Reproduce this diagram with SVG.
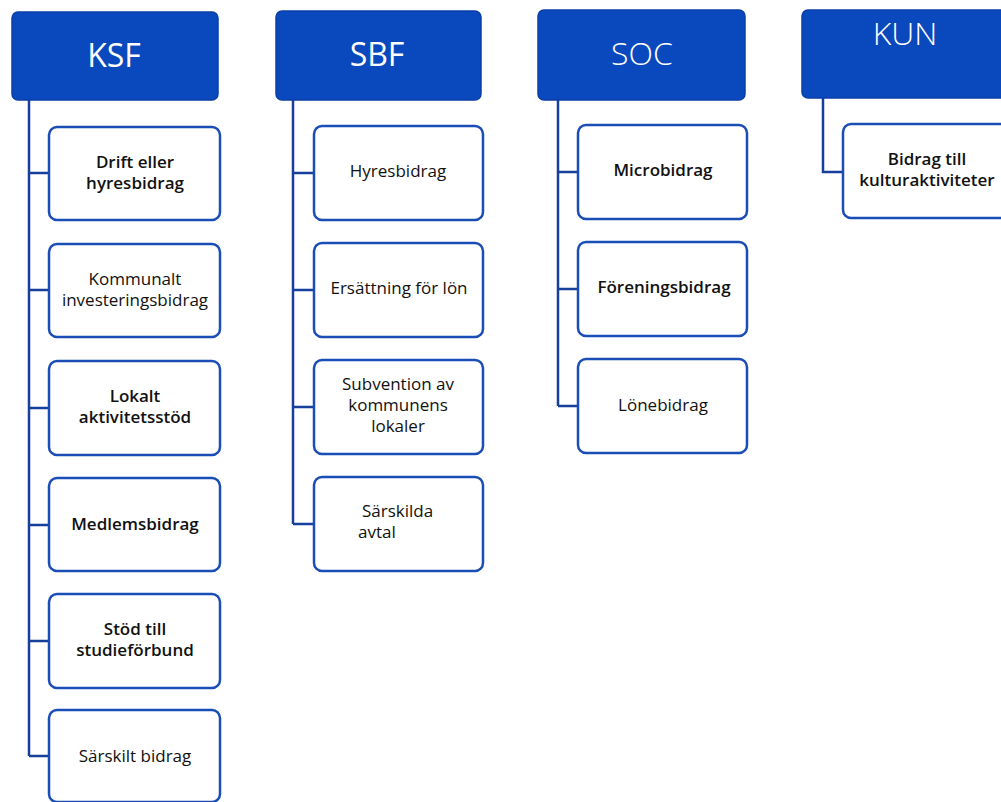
<svg xmlns="http://www.w3.org/2000/svg" width="1001" height="802" viewBox="0 0 1001 802">
<style>
.hdr{fill:#0a48bd;stroke:#0b3fa6;stroke-width:1.5}
.hdrt{font-family:"Open Sans","Liberation Sans",sans-serif;font-size:32px;fill:#ffffff;text-anchor:middle}
.light{font-weight:300}
.box{fill:#ffffff;stroke:#1a4db5;stroke-width:2.5}
.t{font-family:"Open Sans","Liberation Sans",sans-serif;font-size:17px;fill:#111111;text-anchor:middle}
.b{font-weight:600}
.s{text-anchor:start}
.con{fill:none;stroke:#163f9c;stroke-width:2.5}
</style>
<rect width="1001" height="802" fill="#ffffff"/>
<g id="connectors">
<path class="con" d="M29 100V756M29 173H49M29 290H49M29 408H49M29 525H49M29 641H49M29 756H49"/>
<path class="con" d="M293 100V524M293 173H314M293 290H314M293 407H314M293 524H314"/>
<path class="con" d="M558 100V406M558 172H578M558 289H578M558 406H578"/>
<path class="con" d="M823 98V172H843"/>
</g>
<g id="ksf"><rect class="hdr" x="12" y="12" width="206" height="88" rx="6"/><text class="hdrt" x="114" y="67">KSF</text></g>
<g id="sbf"><rect class="hdr" x="276" y="11" width="205" height="89" rx="6"/><text class="hdrt" x="377" y="66">SBF</text></g>
<g id="soc"><rect class="hdr" x="538" y="10" width="207" height="90" rx="6"/><text class="hdrt light" x="642" y="65">SOC</text></g>
<g id="kun"><rect class="hdr" x="802" y="10" width="210" height="88" rx="6"/><text class="hdrt light" x="905" y="45">KUN</text></g>

<g id="ksf1"><rect class="box" x="49" y="127" width="171" height="93" rx="8"/><text class="t b" x="135" y="168">Drift eller</text><text class="t b" x="135" y="189">hyresbidrag</text></g>
<g id="ksf2"><rect class="box" x="49" y="244" width="171" height="93" rx="8"/><text class="t" x="135" y="285">Kommunalt</text><text class="t" x="135" y="306">investeringsbidrag</text></g>
<g id="ksf3"><rect class="box" x="49" y="361" width="171" height="94" rx="8"/><text class="t b" x="135" y="402">Lokalt</text><text class="t b" x="135" y="423">aktivitetsstöd</text></g>
<g id="ksf4"><rect class="box" x="49" y="478" width="171" height="93" rx="8"/><text class="t b" x="135" y="530">Medlemsbidrag</text></g>
<g id="ksf5"><rect class="box" x="49" y="594" width="171" height="94" rx="8"/><text class="t b" x="135" y="635">Stöd till</text><text class="t b" x="135" y="656">studieförbund</text></g>
<g id="ksf6"><rect class="box" x="49" y="710" width="171" height="92" rx="8"/><text class="t" x="135" y="762">Särskilt bidrag</text></g>

<g id="sbf1"><rect class="box" x="314" y="126" width="169" height="94" rx="8"/><text class="t" x="398" y="177">Hyresbidrag</text></g>
<g id="sbf2"><rect class="box" x="314" y="243" width="169" height="94" rx="8"/><text class="t" x="399" y="294">Ersättning för lön</text></g>
<g id="sbf3"><rect class="box" x="314" y="360" width="169" height="94" rx="8"/><text class="t" x="398" y="390">Subvention av</text><text class="t" x="398" y="411">kommunens</text><text class="t" x="398" y="432">lokaler</text></g>
<g id="sbf4"><rect class="box" x="314" y="477" width="169" height="94" rx="8"/><text class="t s" x="362" y="517">Särskilda</text><text class="t s" x="358" y="538">avtal</text></g>

<g id="soc1"><rect class="box" x="578" y="125" width="169" height="94" rx="8"/><text class="t b" x="663" y="176">Microbidrag</text></g>
<g id="soc2"><rect class="box" x="578" y="242" width="169" height="94" rx="8"/><text class="t b" x="664" y="293">Föreningsbidrag</text></g>
<g id="soc3"><rect class="box" x="578" y="359" width="169" height="94" rx="8"/><text class="t" x="663" y="411">Lönebidrag</text></g>

<g id="kun1"><rect class="box" x="843" y="124" width="170" height="94" rx="8"/><text class="t b" x="927" y="165">Bidrag till</text><text class="t b" x="927" y="186">kulturaktiviteter</text></g>
</svg>
